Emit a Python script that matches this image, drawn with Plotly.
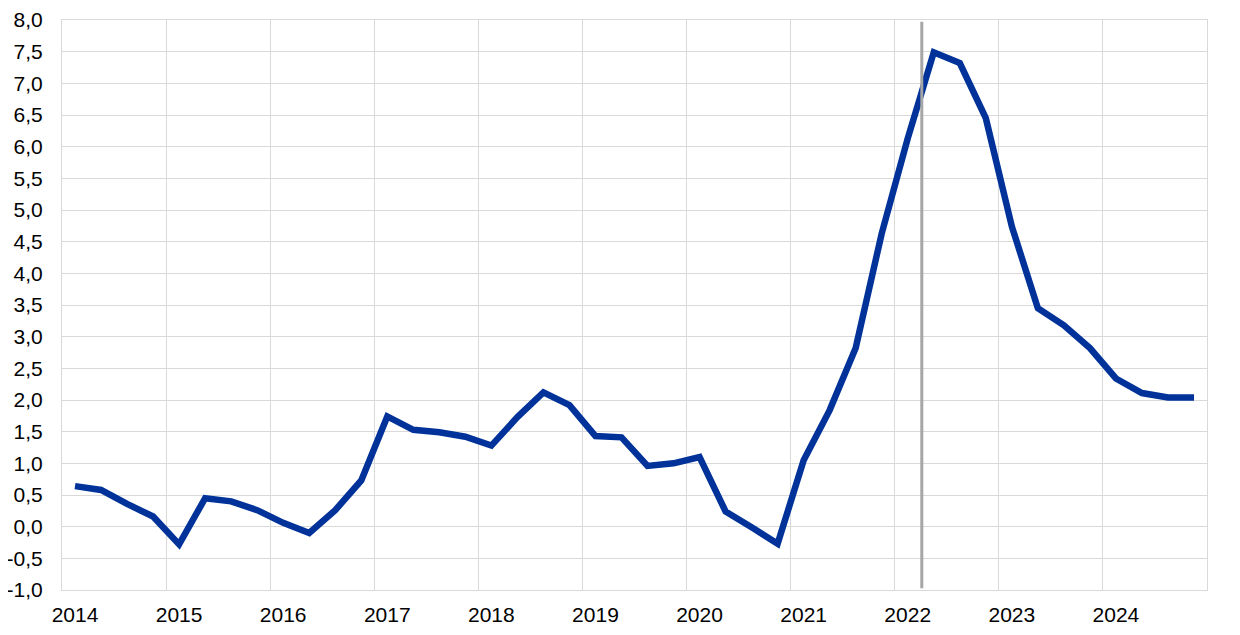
import plotly.graph_objects as go

years = list(range(2014, 2025))
quarter_pos = [y + q * 0.25 + 0.125 for y in years for q in range(4)]
values = [
    0.64, 0.58, 0.36, 0.16,
    -0.28, 0.45, 0.40, 0.26,
    0.06, -0.10, 0.26, 0.73,
    1.74, 1.53, 1.49, 1.42,
    1.28, 1.73, 2.12, 1.92,
    1.43, 1.41, 0.96, 1.00,
    1.10, 0.24, -0.01, -0.27,
    1.05, 1.84, 2.82, 4.63,
    6.13, 7.49, 7.32, 6.45,
    4.74, 3.45, 3.18, 2.82,
    2.34, 2.11, 2.04, 2.04,
]
marker_x = 2022.26
y_ticks = [-1 + 0.5 * i for i in range(19)]
y_ticktext = [f"{v:.1f}".replace(".", ",") for v in y_ticks]
x_ticktext = [str(y) for y in years]

fig = go.Figure()
fig.add_trace(go.Scatter(
    x=quarter_pos, y=values, mode="lines",
    line=dict(color="#003299", width=6.5), showlegend=False,
))
fig.add_shape(type="line", xref="x", yref="paper", x0=marker_x, x1=marker_x,
              y0=0.003, y1=0.997, line=dict(color="#a6a6a6", width=3))

fig.update_layout(
    width=1232, height=627,
    margin=dict(l=54, r=33, t=12, b=45, autoexpand=False),
    paper_bgcolor="white", plot_bgcolor="white",
    font=dict(family="Liberation Sans, Arial", size=21, color="black"),
)
fig.update_xaxes(
    range=[2014, 2025], tickvals=years, ticktext=x_ticktext,
    ticklabelshift=13, ticklabelstandoff=6, automargin=False,
    showgrid=True, gridcolor="#d9d9d9", gridwidth=1,
    showline=True, linecolor="#d9d9d9", linewidth=1, mirror=True,
    ticks="", zeroline=False,
)
fig.update_yaxes(
    range=[-1, 8], tickvals=y_ticks, ticktext=y_ticktext,
    ticklabelstandoff=14, automargin=False,
    showgrid=True, gridcolor="#d9d9d9", gridwidth=1,
    showline=True, linecolor="#d9d9d9", linewidth=1, mirror=True,
    ticks="", zeroline=False,
)
fig.write_html("out.html")
